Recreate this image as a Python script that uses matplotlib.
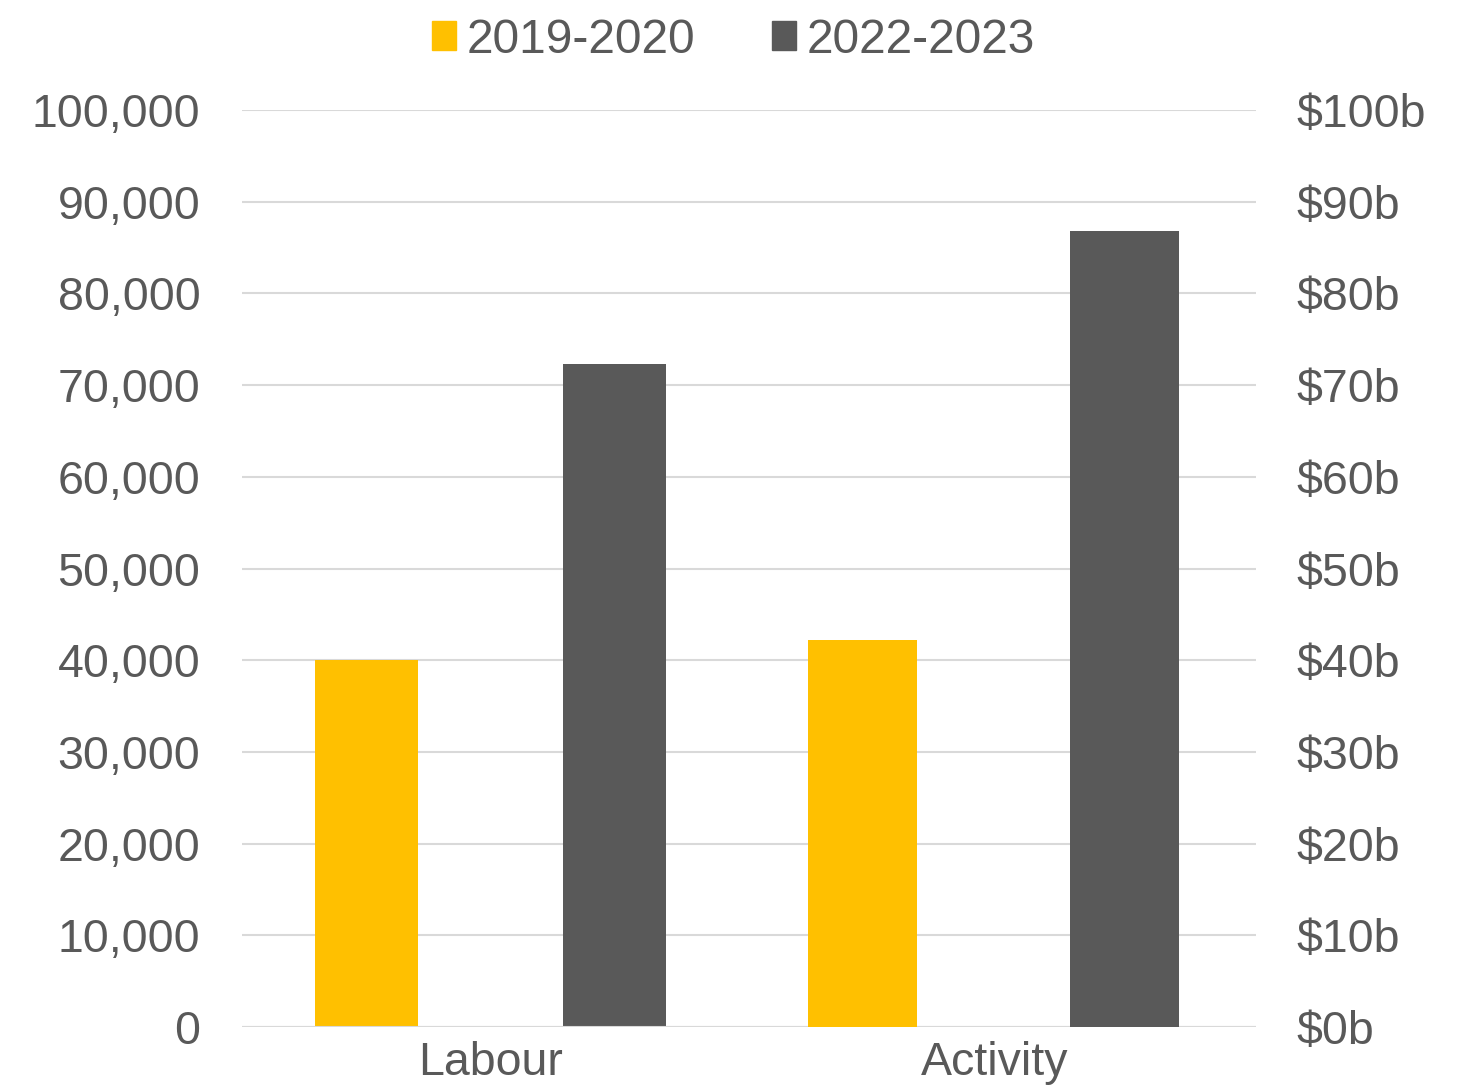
import numpy as np
import matplotlib.pyplot as plt
from matplotlib.patches import Patch
from matplotlib.ticker import FuncFormatter

plt.rcParams['font.family'] = ['Liberation Sans', 'DejaVu Sans']

categories = ['Labour', 'Activity']
series = ['2019-2020', '2022-2023']
labour = [40000, 72300]        # left axis, people
activity = [42.2, 86.8]        # right axis, $ billions
colors = ['#FFC000', '#595959']
text_col = '#595959'
grid_col = '#D9D9D9'

fig = plt.figure(figsize=(14.69, 10.86), dpi=100)
ax = fig.add_axes([0.1647, 0.0543, 0.6903, 0.8444])
ax2 = ax.twinx()

offsets = [-0.255, 0.235]
# Labour bars on left axis
for i, v in enumerate(labour):
    ax.bar(0 + offsets[i], v, width=0.203, color=colors[i], zorder=3)
# Activity bars on right axis
act_off = [-0.276, 0.241]
for i, v in enumerate(activity):
    ax2.bar(1 + act_off[i], v, width=0.216, color=colors[i], zorder=3)

ax.set_xlim(-0.5, 1.5)
ax.set_ylim(0, 100000)
ax2.set_ylim(0, 100)
ax.set_yticks(np.arange(0, 100001, 10000))
ax2.set_yticks(np.arange(0, 101, 10))
ax.yaxis.set_major_formatter(FuncFormatter(lambda v, p: f'{int(v):,}'))
ax2.yaxis.set_major_formatter(FuncFormatter(lambda v, p: f'${int(v)}b'))
ax.set_xticks([-0.01, 0.985])
ax.set_xticklabels(categories)

ax.grid(axis='y', color=grid_col, lw=1.5, zorder=0)
ax.set_axisbelow(True)
for a in (ax, ax2):
    for s in a.spines.values():
        s.set_visible(False)
    a.tick_params(length=0, labelsize=33.5, colors=text_col)
ax.tick_params(axis='y', pad=30)
ax2.tick_params(axis='y', pad=29)
ax.tick_params(axis='x', pad=10)
ax.axhline(0, color=grid_col, lw=1.5, zorder=4)

handles = [Patch(color=c, label=s) for c, s in zip(colors, series)]
fig.legend(handles=handles, loc='center', bbox_to_anchor=(0.4995, 0.963), ncol=2,
           frameon=False, fontsize=34.5, handlelength=0.5, handleheight=0.55,
           handletextpad=0.22, columnspacing=1.6, labelcolor=text_col)

fig.savefig('out.png', dpi=100)
